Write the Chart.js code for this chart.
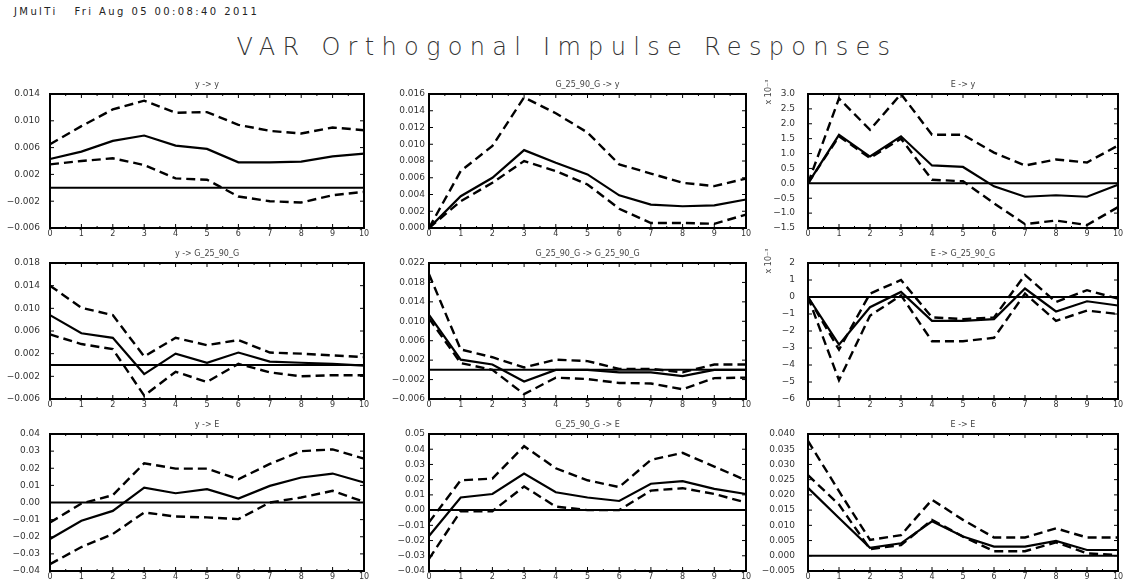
<!DOCTYPE html>
<html>
<head>
<meta charset="utf-8">
<script src="https://cdn.jsdelivr.net/npm/chart.js@4"></script>
<style>
  body { margin: 0; background: #fff; }
  #page { position: relative; width: 1126px; height: 580px; overflow: hidden; background: #fff; }
  #stamp { position: absolute; left: 14px; top: 6px; font: 10px "DejaVu Sans", sans-serif; letter-spacing: 2.4px; color: #222; white-space: pre; }
  #title { position: absolute; left: 4px; top: 33px; width: 1126px; text-align: center; font: 200 24px "DejaVu Sans", sans-serif; letter-spacing: 7.3px; color: #333; }
  .panel { position: absolute; }
</style>
</head>
<body>
<div id="page">
  <div id="stamp">JMulTi   Fri Aug 05 00:08:40 2011</div>
  <div id="title">VAR Orthogonal Impulse Responses</div>
</div>
<script>
const steps = ['0', '1', '2', '3', '4', '5', '6', '7', '8', '9', '10'];

// y -> y
const yToY = [0.0043, 0.0054, 0.0070, 0.0078, 0.0063, 0.0058, 0.0038, 0.0038, 0.0039, 0.0047, 0.0051];
const yToYUp = [0.0065, 0.0092, 0.0117, 0.0130, 0.0112, 0.0113, 0.0094, 0.0085, 0.0081, 0.0090, 0.0086];
const yToYLo = [0.0035, 0.0040, 0.0044, 0.0034, 0.0014, 0.0012, -0.0013, -0.0020, -0.0022, -0.0011, -0.0006];

// G_25_90_G -> y
const gToY = [0, 0.0038, 0.0060, 0.0093, 0.0078, 0.0064, 0.0039, 0.0028, 0.0026, 0.0027, 0.0034];
const gToYUp = [0, 0.0068, 0.0098, 0.0156, 0.0137, 0.0114, 0.0076, 0.0065, 0.0054, 0.0050, 0.0059];
const gToYLo = [0, 0.0032, 0.0054, 0.0080, 0.0068, 0.0052, 0.0023, 0.0006, 0.0006, 0.0005, 0.0016];

// E -> y  (x 10^-3)
const eToY = [0, 1.63, 0.90, 1.58, 0.60, 0.55, -0.10, -0.45, -0.40, -0.45, -0.05];
const eToYUp = [0, 2.85, 1.80, 3.00, 1.63, 1.63, 1.03, 0.60, 0.80, 0.70, 1.27];
const eToYLo = [0, 1.58, 0.85, 1.50, 0.12, 0.07, -0.67, -1.37, -1.25, -1.40, -0.80];

// y -> G_25_90_G
const yToG = [0.0088, 0.0056, 0.0048, -0.0016, 0.0020, 0.0004, 0.0022, 0.0006, 0.0004, 0.0002, -0.0001];
const yToGUp = [0.0140, 0.0101, 0.0088, 0.0015, 0.0048, 0.0035, 0.0044, 0.0022, 0.0020, 0.0017, 0.0014];
const yToGLo = [0.0054, 0.0037, 0.0028, -0.0054, -0.0012, -0.0030, 0.0002, -0.0013, -0.0020, -0.0018, -0.0018];

// G_25_90_G -> G_25_90_G
const gToG = [0.0113, 0.0021, 0.0011, -0.0024, 0.0000, 0.0000, -0.0005, -0.0005, -0.0013, 0.0000, 0.0000];
const gToGUp = [0.0197, 0.0042, 0.0026, 0.0005, 0.0021, 0.0018, 0.0002, 0.0002, -0.0005, 0.0011, 0.0011];
const gToGLo = [0.0106, 0.0014, 0.0000, -0.0050, -0.0016, -0.0019, -0.0027, -0.0028, -0.0040, -0.0017, -0.0016];

// E -> G_25_90_G  (x 10^-3)
const eToG = [0, -2.8, -0.6, 0.3, -1.4, -1.4, -1.3, 0.5, -0.85, -0.25, -0.5];
const eToGUp = [0, -3.1, 0.2, 1.0, -1.2, -1.3, -1.2, 1.3, -0.3, 0.4, -0.1];
const eToGLo = [0, -4.9, -1.1, 0.1, -2.6, -2.6, -2.4, 0.2, -1.4, -0.8, -1.0];

// y -> E
const yToE = [-0.0213, -0.0107, -0.0049, 0.0087, 0.0054, 0.0078, 0.0023, 0.0097, 0.0146, 0.0169, 0.0117];
const yToEUp = [-0.0117, -0.0006, 0.0043, 0.0229, 0.0198, 0.0198, 0.0136, 0.0225, 0.0300, 0.0310, 0.0256];
const yToELo = [-0.0360, -0.0260, -0.0184, -0.0058, -0.0082, -0.0087, -0.0097, 0.0000, 0.0029, 0.0068, 0.0004];

// G_25_90_G -> E
const gToE = [-0.0170, 0.0083, 0.0106, 0.0240, 0.0117, 0.0083, 0.0060, 0.0173, 0.0190, 0.0140, 0.0106];
const gToEUp = [-0.0080, 0.0196, 0.0207, 0.0420, 0.0275, 0.0196, 0.0151, 0.0330, 0.0376, 0.0286, 0.0196];
const gToELo = [-0.0320, -0.0007, -0.0007, 0.0155, 0.0023, 0.0000, 0.0000, 0.0128, 0.0144, 0.0106, 0.0050];

// E -> E
const eToE = [0.0223, 0.0124, 0.0026, 0.0041, 0.0113, 0.0063, 0.0030, 0.0030, 0.0049, 0.0019, 0.0019];
const eToEUp = [0.0377, 0.0212, 0.0052, 0.0068, 0.0184, 0.0118, 0.0060, 0.0060, 0.0090, 0.0060, 0.0060];
const eToELo = [0.0265, 0.0168, 0.0022, 0.0035, 0.0118, 0.0063, 0.0015, 0.0015, 0.0044, 0.0008, 0.0002];

// y axis: min, max, step, label every n-th step, decimals
const panels = [
  { title: 'y -> y', mid: yToY, up: yToYUp, lo: yToYLo, min: -0.006, max: 0.014, step: 0.002, every: 2, dec: 3 },
  { title: 'G_25_90_G -> y', mid: gToY, up: gToYUp, lo: gToYLo, min: 0, max: 0.016, step: 0.002, every: 1, dec: 3 },
  { title: 'E -> y', mid: eToY, up: eToYUp, lo: eToYLo, min: -1.5, max: 3.0, step: 0.5, every: 1, dec: 1, scaleNote: true },
  { title: 'y -> G_25_90_G', mid: yToG, up: yToGUp, lo: yToGLo, min: -0.006, max: 0.018, step: 0.002, every: 2, dec: 3 },
  { title: 'G_25_90_G -> G_25_90_G', mid: gToG, up: gToGUp, lo: gToGLo, min: -0.006, max: 0.022, step: 0.002, every: 2, dec: 3 },
  { title: 'E -> G_25_90_G', mid: eToG, up: eToGUp, lo: eToGLo, min: -6, max: 2, step: 1, every: 1, dec: 0, scaleNote: true },
  { title: 'y -> E', mid: yToE, up: yToEUp, lo: yToELo, min: -0.04, max: 0.04, step: 0.01, every: 1, dec: 2 },
  { title: 'G_25_90_G -> E', mid: gToE, up: gToEUp, lo: gToELo, min: -0.04, max: 0.05, step: 0.01, every: 1, dec: 2 },
  { title: 'E -> E', mid: eToE, up: eToEUp, lo: eToELo, min: -0.005, max: 0.040, step: 0.005, every: 1, dec: 3 }
];

const cols = [{ l: 50, r: 364, pad: 10 }, { l: 429, r: 746, pad: 4 }, { l: 808, r: 1118, pad: 13 }];
const rows = [{ t: 94, b: 228 }, { t: 263, b: 399 }, { t: 434, b: 571 }];
const YW = 60, TH = 16, XH = 12, RP = 10;

// frame, inward ticks, zero line, panel title and the x 10^-3 note
const framePlugin = {
  id: 'frame',
  beforeInit(chart) {
    chart.ctx.letterSpacing = '0.6px';
  },
  beforeDatasetsDraw(chart) {
    const { ctx, chartArea } = chart;
    const y0 = chart.scales.y.getPixelForValue(0);
    ctx.save();
    ctx.strokeStyle = '#000';
    ctx.lineWidth = 2;
    ctx.beginPath();
    ctx.moveTo(chartArea.left, y0);
    ctx.lineTo(chartArea.right, y0);
    ctx.stroke();
    ctx.restore();
  },
  afterDatasetsDraw(chart, args, opts) {
    const { ctx, chartArea } = chart;
    const xs = chart.scales.x, ys = chart.scales.y;
    ctx.save();
    ctx.strokeStyle = '#000';
    ctx.lineWidth = 1;
    ctx.beginPath();
    xs.ticks.forEach((t, i) => {
      const px = xs.getPixelForTick(i);
      ctx.moveTo(px, chartArea.bottom); ctx.lineTo(px, chartArea.bottom - 4);
      ctx.moveTo(px, chartArea.top); ctx.lineTo(px, chartArea.top + 4);
      if (i < xs.ticks.length - 1) {
        const mx = (px + xs.getPixelForTick(i + 1)) / 2;
        ctx.moveTo(mx, chartArea.bottom); ctx.lineTo(mx, chartArea.bottom - 2);
        ctx.moveTo(mx, chartArea.top); ctx.lineTo(mx, chartArea.top + 2);
      }
    });
    ys.ticks.forEach((t) => {
      const py = ys.getPixelForValue(t.value);
      ctx.moveTo(chartArea.left, py); ctx.lineTo(chartArea.left + 4, py);
      ctx.moveTo(chartArea.right, py); ctx.lineTo(chartArea.right - 4, py);
    });
    ctx.stroke();
    ctx.lineWidth = 2;
    ctx.strokeRect(chartArea.left, chartArea.top, chartArea.right - chartArea.left, chartArea.bottom - chartArea.top);
    ctx.fillStyle = '#444';
    ctx.font = '8px "DejaVu Sans", sans-serif';
    ctx.textAlign = 'center';
    ctx.textBaseline = 'middle';
    ctx.fillText(opts.text, (chartArea.left + chartArea.right) / 2, chartArea.top - 9);
    if (opts.note) {
      ctx.translate(chartArea.left - 39, chartArea.top - 2);
      ctx.rotate(-Math.PI / 2);
      ctx.textAlign = 'center';
      ctx.fillText(opts.note, 0, 0);
    }
    ctx.restore();
  }
};

function makePanel(p, idx) {
  const col = cols[idx % 3], row = rows[Math.floor(idx / 3)];
  const div = document.createElement('div');
  div.className = 'panel';
  div.style.left = (col.l - YW) + 'px';
  div.style.top = (row.t - TH) + 'px';
  div.style.width = (col.r - col.l + YW + RP) + 'px';
  div.style.height = (row.b - row.t + TH + XH) + 'px';
  const canvas = document.createElement('canvas');
  div.appendChild(canvas);
  document.getElementById('page').appendChild(div);

  const line = (data, dashed) => ({
    data: data,
    borderColor: '#000',
    borderWidth: dashed ? 2.4 : 2.2,
    borderDash: dashed ? [9, 5] : [],
    pointRadius: 0,
    tension: 0,
    fill: false
  });

  new Chart(canvas, {
    type: 'line',
    plugins: [framePlugin],
    data: {
      labels: steps,
      datasets: [line(p.up, true), line(p.lo, true), line(p.mid, false)]
    },
    options: {
      responsive: true,
      maintainAspectRatio: false,
      animation: false,
      layout: { padding: { top: TH, right: RP, left: 0, bottom: 0 } },
      plugins: {
        legend: { display: false },
        tooltip: { enabled: false },
        frame: { text: p.title, note: p.scaleNote ? 'x 10⁻³' : '' }
      },
      scales: {
        x: {
          grid: { display: false, drawTicks: false },
          border: { display: false },
          ticks: { color: '#333', font: { family: 'DejaVu Sans', size: 8 }, padding: 1, maxRotation: 0, autoSkip: false },
          afterFit(scale) { scale.height = XH; scale.paddingLeft = 0; scale.paddingRight = 0; }
        },
        y: {
          min: p.min,
          max: p.max,
          grid: { display: false, drawTicks: false },
          border: { display: false },
          ticks: {
            stepSize: p.step,
            color: '#333',
            padding: col.pad,
            font: { family: 'DejaVu Sans', size: 9 },
            callback(value) {
              const k = Math.round((value - p.min) / p.step);
              if (k % p.every !== 0) return '';
              let v = Math.abs(value) < p.step / 100 ? 0 : value;
              return v.toFixed(p.dec).replace('-', '−');
            }
          },
          afterFit(scale) { scale.width = YW; scale.paddingTop = 0; scale.paddingBottom = 0; }
        }
      }
    }
  });
}

panels.forEach(makePanel);
</script>
</body>
</html>
